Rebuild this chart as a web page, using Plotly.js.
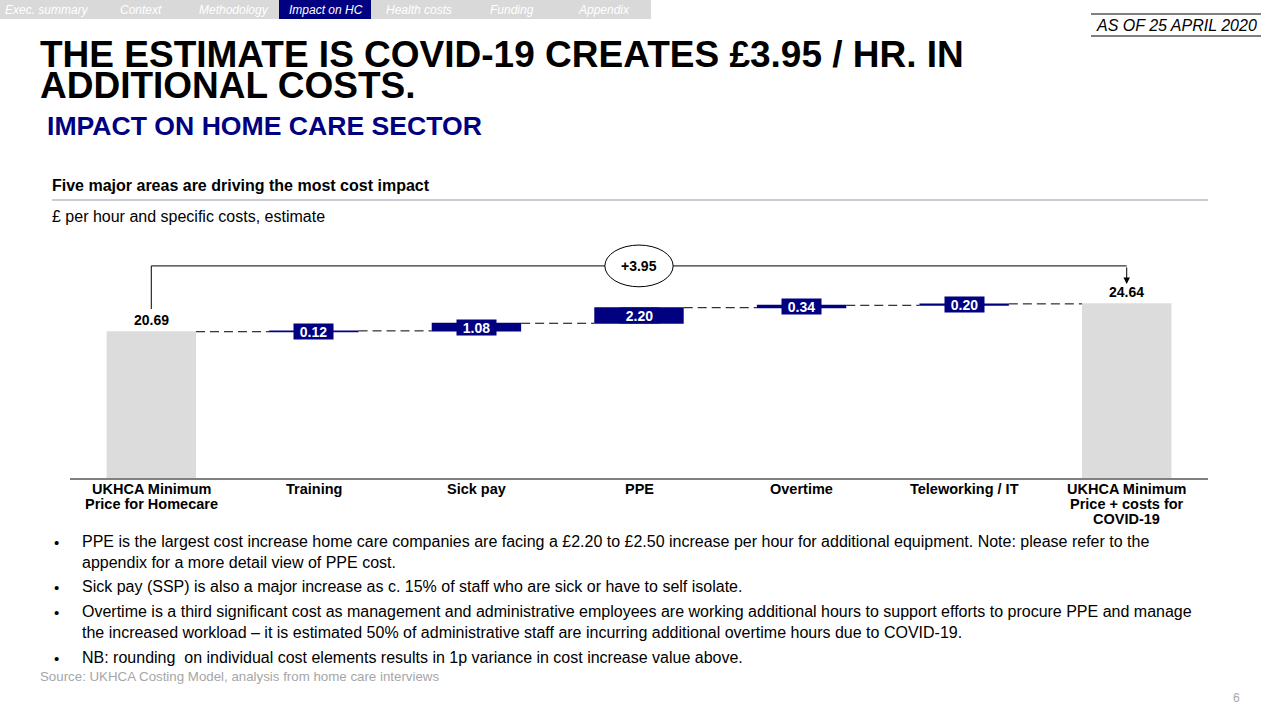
<!DOCTYPE html>
<html>
<head>
<meta charset="utf-8">
<script src="https://cdn.plot.ly/plotly-3.0.1.min.js"></script>
<style>
  html, body { margin: 0; padding: 0; background: #ffffff; }
  #wrap { position: relative; width: 1280px; height: 720px; }
  #chart { position: absolute; left: 0; top: 0; width: 1280px; height: 720px; }
  #title {
    position: absolute; left: 40px; top: 39px; margin: 0; width: 960px;
    font-family: "Liberation Sans", Arial, sans-serif; font-weight: bold;
    font-size: 37px; line-height: 31px; color: #000; white-space: normal;
  }
</style>
</head>
<body>
<div id="wrap">
  <div id="chart"></div>
  <div id="title"></div>
</div>
<script>
// ---- data ----
const titleText = "THE ESTIMATE IS COVID-19 CREATES £3.95 / HR. IN ADDITIONAL COSTS.";
const categories = [
  "UKHCA Minimum<br>Price for Homecare",
  "Training",
  "Sick pay",
  "PPE",
  "Overtime",
  "Teleworking / IT",
  "UKHCA Minimum<br>Price + costs for<br>COVID-19"
];
const values = [20.69, 0.12, 1.08, 2.20, 0.34, 0.20, 24.64];
const measures = ["absolute", "relative", "relative", "relative", "relative", "relative", "absolute"];
const valueLabels = ["20.69", "0.12", "1.08", "2.20", "0.34", "0.20", "24.64"];

const navTabs = ["Exec. summary", "Context", "Methodology", "Impact on HC", "Health costs", "Funding", "Appendix"];
const bullets = [
  "PPE is the largest cost increase home care companies are facing a £2.20 to £2.50 increase per hour for additional equipment. Note: please refer to the<br>appendix for a more detail view of PPE cost.",
  "Sick pay (SSP) is also a major increase as c. 15% of staff who are sick or have to self isolate.",
  "Overtime is a third significant cost as management and administrative employees are working additional hours to support efforts to procure PPE and manage<br>the increased workload – it is estimated 50% of administrative staff are incurring additional overtime hours due to COVID-19.",
  "NB: rounding  on individual cost elements results in 1p variance in cost increase value above."
];

// title as a single wrapped text block with tight line spacing
document.getElementById("title").textContent = titleText;

// ---- layout geometry (pixels) ----
const L = 70, R = 1208, T = 237, B = 478;
const X = px => (px - L) / (R - L);
const Y = py => (B - py) / (B - T);
const FONT = "Liberation Sans, Arial, sans-serif";
const NAVY = "#000080";

// cumulative levels from data
const lows = [], highs = [];
let run = 0;
values.forEach((v, i) => {
  if (measures[i] === "absolute") { lows.push(0); highs.push(v); run = v; }
  else { lows.push(run); highs.push(run + v); run += v; }
});
const delta = values[values.length - 1] - values[0];

const trace = {
  type: "waterfall",
  x: categories,
  y: values,
  measure: measures,
  textposition: "none",
  hoverinfo: "skip",
  increasing: { marker: { color: NAVY } },
  decreasing: { marker: { color: NAVY } },
  totals: { marker: { color: "#dcdcdc" } },
  connector: { mode: "between", line: { color: "#000000", width: 1, dash: "9px,5px" } }
};

const annotations = [];
const shapes = [];

// category labels (tight line spacing, anchored to the category axis)
categories.forEach((c, i) => {
  c.split("<br>").forEach((line, j) => {
    annotations.push({
      x: i, y: 0, xref: "x", yref: "y", text: line, showarrow: false,
      xanchor: "center", yanchor: "middle", yshift: -(11 + 15 * j),
      font: { family: FONT, size: 14.5, color: "#000", weight: "bold" }
    });
  });
});

// value labels
values.forEach((v, i) => {
  if (measures[i] === "absolute") {
    annotations.push({
      x: i, y: highs[i], xref: "x", yref: "y", text: valueLabels[i], showarrow: false,
      yanchor: "bottom", yshift: 2,
      font: { family: FONT, size: 14, color: "#000000", weight: "bold" }
    });
  } else {
    annotations.push({
      x: i, y: (lows[i] + highs[i]) / 2, xref: "x", yref: "y", text: valueLabels[i], showarrow: false,
      bgcolor: NAVY, width: 37, height: 13, borderpad: 1,
      font: { family: FONT, size: 14, color: "#ffffff", weight: "bold" }
    });
  }
});

// bracket showing total increase
const last = values.length - 1;
const bracketY = 30.0;
shapes.push({ type: "line", xref: "x", yref: "y", x0: 0, x1: 0, y0: 23.9, y1: bracketY, line: { color: "#000", width: 1 } });
shapes.push({ type: "line", xref: "x", yref: "y", x0: 0, x1: last, y0: bracketY, y1: bracketY, line: { color: "#000", width: 1 } });
shapes.push({ type: "circle", xref: "x", yref: "y", x0: 2.79, x1: 3.21, y0: 27.05, y1: 32.95,
  fillcolor: "#ffffff", line: { color: "#000", width: 1 } });
annotations.push({
  x: last, y: 27.45, xref: "x", yref: "y", text: "", showarrow: true,
  ax: 0, ay: -18, arrowhead: 2, arrowsize: 1.3, arrowwidth: 1, arrowcolor: "#000", standoff: 0
});
annotations.push({
  x: 3, y: bracketY, xref: "x", yref: "y", text: "+" + delta.toFixed(2), showarrow: false,
  font: { family: FONT, size: 14, color: "#000", weight: "bold" }
});

// ---- slide chrome ----
shapes.push({ type: "rect", xref: "paper", yref: "paper", x0: X(0), x1: X(651), y0: Y(0), y1: Y(19),
  fillcolor: "#d9d9d9", line: { width: 0 }, layer: "below" });
shapes.push({ type: "rect", xref: "paper", yref: "paper", x0: X(279), x1: X(371), y0: Y(0), y1: Y(19),
  fillcolor: NAVY, line: { width: 0 }, layer: "below" });
const tabX = [3, 118, 197, 287, 384, 488, 576];
navTabs.forEach((t, i) => {
  annotations.push({
    x: X(tabX[i]), y: Y(10), xref: "paper", yref: "paper", xanchor: "left", yanchor: "middle",
    text: t, showarrow: false,
    font: { family: FONT, size: 12, color: "#ffffff", style: "italic" }
  });
});

shapes.push({ type: "line", xref: "paper", yref: "paper", x0: X(1091), x1: X(1261), y0: Y(14), y1: Y(14), line: { color: "#000", width: 1 } });
shapes.push({ type: "line", xref: "paper", yref: "paper", x0: X(1091), x1: X(1261), y0: Y(36), y1: Y(36), line: { color: "#000", width: 1 } });
annotations.push({
  x: X(1259), y: Y(25), xref: "paper", yref: "paper", xanchor: "right", yanchor: "middle",
  text: "AS OF 25 APRIL 2020", showarrow: false,
  font: { family: FONT, size: 16, color: "#000", style: "italic" }
});

annotations.push({
  x: X(45), y: Y(126), xref: "paper", yref: "paper", xanchor: "left", yanchor: "middle",
  text: "IMPACT ON HOME CARE SECTOR", showarrow: false,
  font: { family: FONT, size: 26.6, color: NAVY, weight: "bold" }
});
annotations.push({
  x: X(50), y: Y(185), xref: "paper", yref: "paper", xanchor: "left", yanchor: "middle",
  text: "Five major areas are driving the most cost impact", showarrow: false,
  font: { family: FONT, size: 16, color: "#000", weight: "bold" }
});
shapes.push({ type: "line", xref: "paper", yref: "paper", x0: X(52), x1: X(1208), y0: Y(200), y1: Y(200), line: { color: "#b7bcc4", width: 1.5 } });
annotations.push({
  x: X(50), y: Y(216), xref: "paper", yref: "paper", xanchor: "left", yanchor: "middle",
  text: "£ per hour and specific costs, estimate", showarrow: false,
  font: { family: FONT, size: 16, color: "#000" }
});

// bullets
const bulletTops = [542, 587, 612, 658];
bullets.forEach((b, i) => {
  annotations.push({
    x: X(52), y: Y(bulletTops[i]), xref: "paper", yref: "paper", xanchor: "left", yanchor: "middle",
    text: "•", showarrow: false, font: { family: FONT, size: 15, color: "#000" }
  });
  annotations.push({
    x: X(80), y: Y(bulletTops[i] - 11), xref: "paper", yref: "paper", xanchor: "left", yanchor: "top",
    align: "left", text: b, showarrow: false, font: { family: FONT, size: 16, color: "#000" }
  });
});
annotations.push({
  x: X(38), y: Y(676), xref: "paper", yref: "paper", xanchor: "left", yanchor: "middle",
  text: "Source: UKHCA Costing Model, analysis from home care interviews", showarrow: false,
  font: { family: FONT, size: 13.3, color: "#a6a6a6" }
});
annotations.push({
  x: X(1236), y: Y(698), xref: "paper", yref: "paper", xanchor: "center", yanchor: "middle",
  text: "6", showarrow: false, font: { family: FONT, size: 12, color: "#a6a6a6" }
});

const layout = {
  width: 1280, height: 720,
  margin: { l: L, r: 1280 - R, t: T, b: 720 - B, pad: 0 },
  paper_bgcolor: "rgba(0,0,0,0)", plot_bgcolor: "rgba(0,0,0,0)",
  showlegend: false,
  waterfallgap: 0.45,
  font: { family: FONT, color: "#000" },
  xaxis: {
    type: "category", showline: true, linecolor: "#808080", linewidth: 2,
    ticks: "", showgrid: false, zeroline: false, fixedrange: true,
    showticklabels: false
  },
  yaxis: {
    range: [0, 34.09], visible: false, showgrid: false, zeroline: false, fixedrange: true
  },
  shapes: shapes,
  annotations: annotations
};

Plotly.newPlot("chart", [trace], layout, { displayModeBar: false, staticPlot: true });
</script>
</body>
</html>
